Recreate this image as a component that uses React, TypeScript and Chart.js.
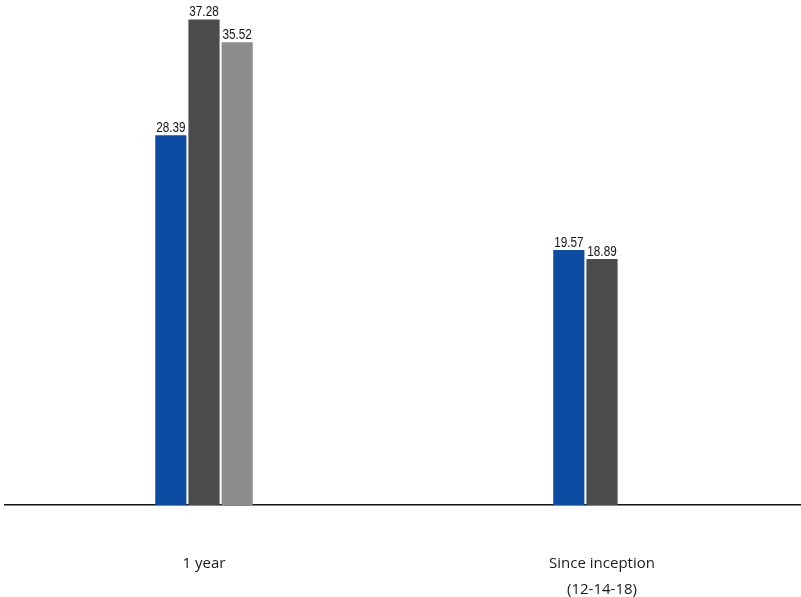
import React, { useEffect, useRef } from "react";
import { Chart, registerables } from "chart.js";

Chart.register(...registerables);

const categories: string[][] = [["1 year"], ["Since inception", "(12-14-18)"]];
const seriesA: (number | null)[] = [28.39, 19.57];
const seriesB: (number | null)[] = [37.28, 18.89];
const seriesC: (number | null)[] = [35.52, null];
const seriesNames = ["Fund", "Benchmark", "Category"];
const colors = ["#0c4ca2", "#4b4b4b", "#8c8c8c"];

const valueLabels = {
  id: "valueLabels",
  afterDatasetsDraw(chart: any) {
    const ctx = chart.ctx;
    chart.data.datasets.forEach((ds: any, i: number) => {
      const meta = chart.getDatasetMeta(i);
      meta.data.forEach((el: any, j: number) => {
        const v = ds.data[j];
        if (v === null || v === undefined) return;
        ctx.save();
        ctx.font = '14.5px "Liberation Sans", Arial, sans-serif';
        ctx.fillStyle = "#111";
        ctx.textAlign = "center";
        ctx.textBaseline = "alphabetic";
        ctx.translate(el.x, el.y - 3);
        ctx.scale(0.81, 1);
        ctx.fillText(v.toFixed(2), 0, 0);
        ctx.restore();
      });
    });
  },
};

export default function App() {
  const ref = useRef<HTMLCanvasElement>(null);
  useEffect(() => {
    if (!ref.current) return;
    const chart = new Chart(ref.current, {
      type: "bar",
      data: {
        labels: categories,
        datasets: [seriesA, seriesB, seriesC].map((d, i) => ({
          label: seriesNames[i],
          data: d,
          backgroundColor: colors[i],
          borderWidth: 0,
          categoryPercentage: 0.25,
          barPercentage: 0.94,
        })),
      },
      options: {
        responsive: false,
        animation: false,
        devicePixelRatio: 1,
        layout: { padding: { left: 5, right: 0, top: 10, bottom: 0 } },
        plugins: { legend: { display: false }, tooltip: { enabled: false } },
        scales: {
          x: {
            offset: true,
            grid: { display: true, color: "transparent", drawTicks: false },
            border: { display: true, color: "#111", width: 1.5 },
            ticks: {
              padding: 46,
              color: "#1a1a1a",
              font: { family: '"Open Sans", sans-serif', size: 15, lineHeight: 1.7 },
              maxRotation: 0,
            },
            afterFit(scale: any) {
              scale.height = 92;
            },
          },
          y: {
            display: false,
            min: 0,
            max: 38,
          },
        },
      },
      plugins: [valueLabels],
    });
    return () => chart.destroy();
  }, []);
  return (
    <div style={{ position: "fixed", left: 0, top: 0, width: 801, height: 597, background: "#fff" }}>
      <canvas ref={ref} width={801} height={597} style={{ display: "block" }} />
    </div>
  );
}
